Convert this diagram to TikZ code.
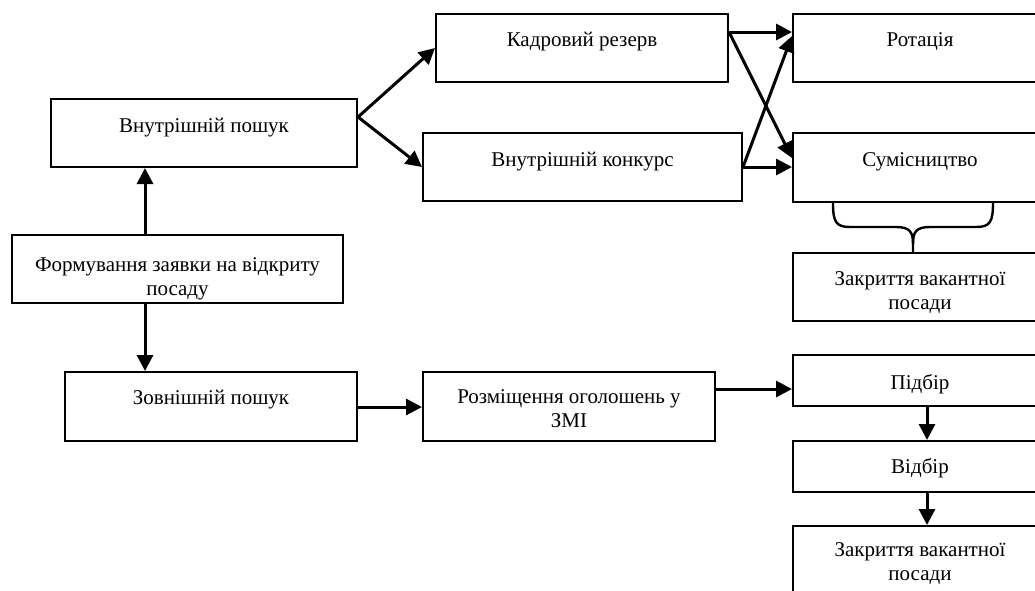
\documentclass[tikz,border=0pt]{standalone}
\usepackage{fontspec}
\setmainfont{Liberation Serif}
\usetikzlibrary{arrows.meta}
\begin{document}
\begin{tikzpicture}[x=1pt,y=-1pt,
  box/.style={draw=black, line width=2pt, fill=white, inner sep=0pt},
  txt/.style={font=\fontsize{21}{24}\selectfont, align=center, inner sep=0pt, anchor=base},
  arr/.style={line width=3pt, -{Triangle[length=16pt,width=16pt]}},
  ln/.style={line width=2.4pt}]
\useasboundingbox (0,0) rectangle (1035,590);
\clip (0,0) rectangle (1035,590);
% boxes
\node[box, minimum width=306pt, minimum height=68pt] (vp) at (204,133) {};
\node[box, minimum width=331pt, minimum height=68pt] (form) at (177.5,269) {};
\node[box, minimum width=292pt, minimum height=68pt] (kr) at (582,48) {};
\node[box, minimum width=319pt, minimum height=68pt] (vk) at (582.5,167) {};
\node[box, minimum width=254pt, minimum height=68pt] (rot) at (920,48) {};
\node[box, minimum width=254pt, minimum height=69pt] (sum) at (920,167.5) {};
\node[box, minimum width=254pt, minimum height=68pt] (zk1) at (920,287) {};
\node[box, minimum width=292pt, minimum height=69pt] (zp) at (211,406.5) {};
\node[box, minimum width=292pt, minimum height=69pt] (rz) at (569,406.5) {};
\node[box, minimum width=254pt, minimum height=51pt] (pb) at (920,380.5) {};
\node[box, minimum width=254pt, minimum height=51pt] (vb) at (920,466.5) {};
\node[box, minimum width=254pt, minimum height=68pt] (zk2) at (920,560) {};
% texts
\node[txt] (tvp) at (204,132) {Внутрішній пошук};
\node[txt] (tform) at (177.5,295) {Формування заявки на відкриту\\посаду};
\node[txt] (tkr) at (582,46) {Кадровий резерв};
\node[txt] (tvk) at (582.5,166) {Внутрішній конкурс};
\node[txt] (trot) at (920,46) {Ротація};
\node[txt] (tsum) at (920,166) {Сумісництво};
\node[txt] (tzk1) at (920,309) {Закриття вакантної\\посади};
\node[txt] (tzp) at (211,404) {Зовнішній пошук};
\node[txt] (trz) at (569,427) {Розміщення оголошень у\\ЗМІ};
\node[txt] (tpb) at (920,389) {Підбір};
\node[txt] (tvb) at (920,473) {Відбір};
\node[txt] (tzk2) at (920,580) {Закриття вакантної\\посади};
% connectors
\draw[arr] (form.north -| 145,0) -- (vp.south -| 145,0);
\draw[arr] (form.south -| 145,0) -- (zp.north -| 145,0);
\draw[arr] (vp.east |- 0,117) -- (kr.west);
\draw[arr] (vp.east |- 0,117) -- (vk.west);
\draw[arr] (kr.east |- 0,32) -- (rot.west |- 0,32);
\draw[arr] (kr.east |- 0,32) -- (sum.west |- 0,158);
\draw[arr] (vk.east) -- (rot.west |- 0,36);
\draw[arr] (vk.east) -- (sum.west |- 0,167);
\draw[arr] (zp.east |- 0,407) -- (rz.west |- 0,407);
\draw[arr] (rz.east |- 0,389) -- (pb.west |- 0,389);
\draw[arr] (pb.south -| 927,0) -- (vb.north -| 927,0);
\draw[arr] (vb.south -| 927,0) -- (zk2.north -| 927,0);
% brace
\draw[ln] (sum.south -| 833,0) .. controls (833,222) and (836,227) .. (850,227)
  -- (896,227) .. controls (910,227) and (913,232) .. (913,244) -- (zk1.north -| 913,0);
\draw[ln] (sum.south -| 993,0) .. controls (993,222) and (990,227) .. (976,227)
  -- (930,227) .. controls (916,227) and (913,232) .. (913,244);
\end{tikzpicture}
\end{document}
